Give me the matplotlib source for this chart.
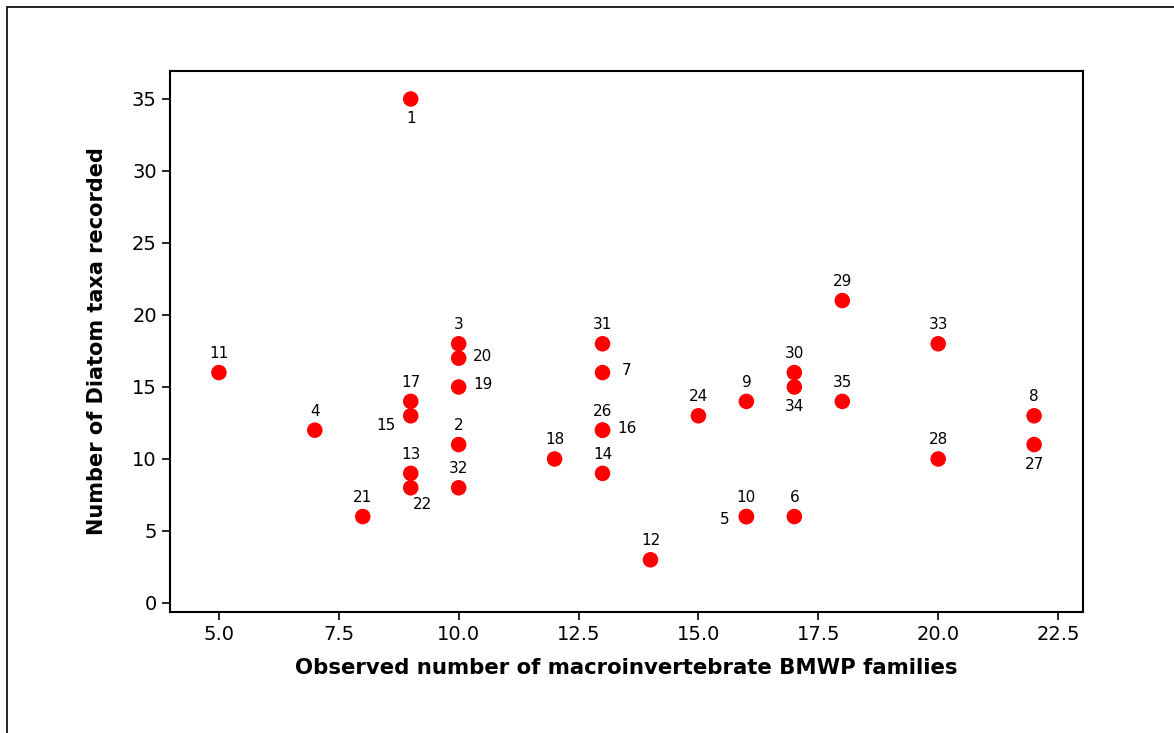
import matplotlib.pyplot as plt
from matplotlib.patches import Rectangle

# data
bmwp = [9, 10, 10, 7, 16, 17, 13, 22, 16, 16, 5, 14, 9, 13, 9, 13, 9, 12,
        10, 10, 8, 9, 15, 13, 22, 20, 18, 17, 13, 10, 20, 17, 18]
diatoms = [35, 11, 18, 12, 6, 6, 16, 13, 14, 6, 16, 3, 9, 9, 13, 12, 14, 10,
           15, 17, 6, 8, 13, 12, 11, 10, 21, 16, 18, 8, 18, 15, 14]
site_ids = ['1', '2', '3', '4', '5', '6', '7', '8', '9', '10', '11', '12', '13',
            '14', '15', '16', '17', '18', '19', '20', '21', '22', '24', '26',
            '27', '28', '29', '30', '31', '32', '33', '34', '35']

# where each label sits relative to its point (pixels)
above, below, right = (0, 19), (0, -20), (24, 2)
offsets = {'1': below, '5': (-22, -3), '7': right, '15': (-25, -10),
           '16': right, '19': right, '20': right, '22': (12, -17),
           '27': below, '34': below}

fig = plt.figure(figsize=(11.74, 7.33), dpi=100)
# outer frame of the graph window
fig.patches.append(Rectangle((7 / 1174, -0.1), 1.2, 1.1 - 7 / 733,
                             transform=fig.transFigure, fill=False,
                             edgecolor='black', linewidth=1.2))
ax = fig.add_axes([0.1448, 0.1651, 0.7777, 0.738])

ax.scatter(bmwp, diatoms, s=125, color='#ff0000', edgecolors='none', zorder=3)
for x, y, lab in zip(bmwp, diatoms, site_ids):
    dx, dy = offsets.get(lab, above)
    ax.annotate(lab, (x, y), xytext=(dx, dy), textcoords='offset pixels',
                ha='center', va='center', fontsize=11)

ax.set_xlim(3.98, 23.02)
ax.set_ylim(-0.625, 36.94)
ax.set_xticks([5.0, 7.5, 10.0, 12.5, 15.0, 17.5, 20.0, 22.5])
ax.set_xticklabels(['5.0', '7.5', '10.0', '12.5', '15.0', '17.5', '20.0', '22.5'])
ax.set_yticks([0, 5, 10, 15, 20, 25, 30, 35])
ax.tick_params(direction='out', length=6, width=1.2, labelsize=14)
for sp in ax.spines.values():
    sp.set_linewidth(1.5)

ax.set_xlabel('Observed number of macroinvertebrate BMWP families',
              fontsize=15.3, fontweight='heavy', labelpad=10)
ax.set_ylabel('Number of Diatom taxa recorded', fontsize=15,
              fontweight='heavy', labelpad=18)

fig.savefig('out.png', dpi=100)
